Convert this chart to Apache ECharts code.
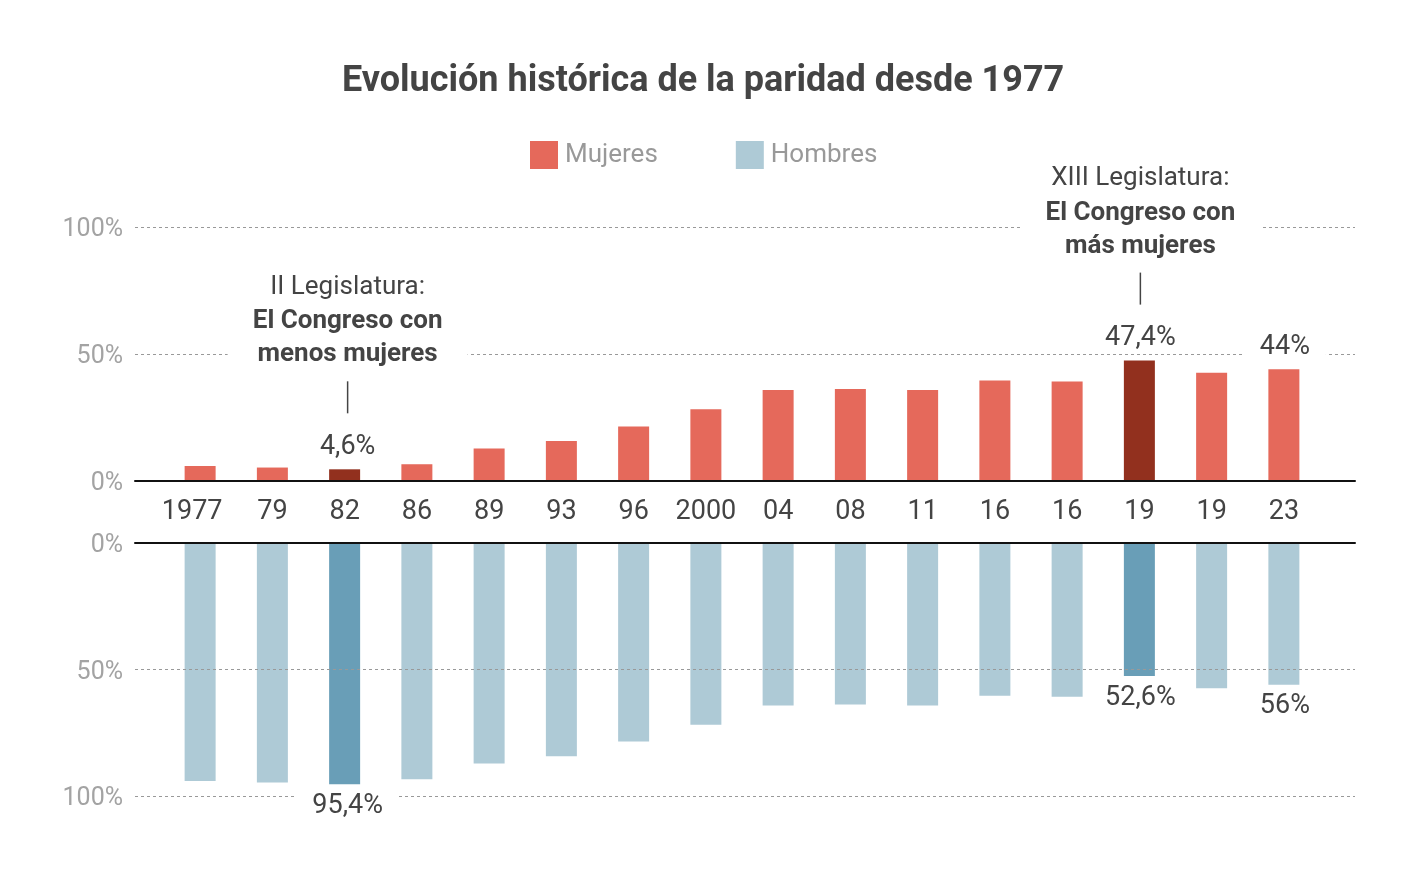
<!DOCTYPE html>
<html>
<head>
<meta charset="utf-8">
<script src="https://cdn.jsdelivr.net/npm/echarts@6/dist/echarts.min.js"></script>
<style>
  html, body { margin: 0; padding: 0; background: #fff; }
  #chart { width: 1420px; height: 878px; }
</style>
</head>
<body>
<div id="chart"></div>
<script>
// legislaturas (año de elección)
var years = ['1977', '79', '82', '86', '89', '93', '96', '2000', '04', '08', '11', '16', '16', '19', '19', '23'];
// % de escaños
var mujeres = [5.9, 5.3, 4.6, 6.6, 12.8, 15.7, 21.5, 28.2, 35.8, 36.2, 35.8, 39.6, 39.2, 47.4, 42.6, 44];
var hombres = [94.1, 94.7, 95.4, 93.4, 87.2, 84.3, 78.5, 71.8, 64.2, 63.8, 64.2, 60.4, 60.8, 52.6, 57.4, 56];
var yTicks = [0, 50, 100];

var highlight = [2, 13];        // II y XIII legislatura
var labelled = [2, 13, 15];     // barras con cifra
var notes = {
  2: ['II Legislatura:', 'El Congreso con', 'menos mujeres'],
  13: ['XIII Legislatura:', 'El Congreso con', 'más mujeres']
};

var RED = '#E5695B', RED_DARK = '#92301E';
var BLUE = '#AECAD6', BLUE_DARK = '#699EB7';
var FONT = 'Roboto';

function pct(v) { return String(v).replace('.', ',') + '%'; }

function barData(values, base, dark) {
  return values.map(function (v, i) {
    return { value: v, itemStyle: { color: highlight.indexOf(i) >= 0 ? dark : base } };
  });
}

// serie transparente encima de la rejilla, solo para las etiquetas
function labelData(values, position, withNotes) {
  return values.map(function (v, i) {
    var item = { value: v };
    if (labelled.indexOf(i) < 0) return item;
    var txt = '{v|' + pct(v) + '}';
    if (withNotes && notes[i]) {
      var n = notes[i];
      txt = '{n|' + n[0] + '}\n{b|' + n[1] + '}\n{b|' + n[2] + '}\n{g1|}\n{tk|}\n{g2|}\n' + txt;
    }
    item.label = {
      show: true,
      position: position,
      distance: 7,
      offset: i === 2 ? [3, 0] : [1, 0],
      formatter: txt
    };
    return item;
  });
}

var rich = {
  v: { fontFamily: FONT, fontSize: 27, color: '#444', height: 30, lineHeight: 30, backgroundColor: '#fff', padding: [0, 16] },
  n: { fontFamily: FONT, fontSize: 26, color: '#444', width: 240, height: 36, lineHeight: 36, backgroundColor: '#fff' },
  b: { fontFamily: FONT, fontSize: 26, fontWeight: 'bold', color: '#444', width: 240, height: 33, lineHeight: 33, backgroundColor: '#fff' },
  g1: { height: 10, lineHeight: 10 },
  tk: { width: 1.5, height: 32, lineHeight: 32, backgroundColor: '#444' },
  g2: { height: 19, lineHeight: 19 }
};

var chart = echarts.init(document.getElementById('chart'), null, { renderer: 'canvas' });

var gridTop = { top: 227, height: 254 };
var gridBot = { top: 543, height: 253 };

function valueY(grid, inverse) {
  return {
    type: 'value', gridIndex: grid, min: yTicks[0], max: yTicks[yTicks.length - 1], interval: 50,
    inverse: inverse, z: 3,
    axisLine: { show: false }, axisTick: { show: false },
    axisLabel: {
      margin: 12,
      formatter: function (v) { return '{t|' + v + '%}'; },
      rich: { t: { fontFamily: FONT, fontSize: 25, color: '#A3A3A3', padding: [6, 0, 0, 0] } }
    },
    splitLine: { show: true, lineStyle: { color: '#999', width: 1, type: [3, 3] } }
  };
}

chart.setOption({
  backgroundColor: '#fff',
  animation: false,
  title: {
    text: 'Evolución histórica de la paridad desde 1977',
    left: 337, top: 59,
    textStyle: { fontFamily: FONT, fontSize: 36, fontWeight: 'bold', color: '#444' }
  },
  legend: {
    data: ['Mujeres', 'Hombres'],
    top: 136, left: 525,
    icon: 'rect', itemWidth: 28, itemHeight: 28, itemGap: 78,
    textStyle: { fontFamily: FONT, fontSize: 26, color: '#999', padding: [0, 0, 0, 2] }
  },
  grid: [
    { left: 164, right: 100, top: gridTop.top, height: gridTop.height },
    { left: 164, right: 100, top: gridBot.top, height: gridBot.height },
    { left: 135, right: 65, top: gridTop.top, height: gridTop.height },
    { left: 135, right: 65, top: gridBot.top, height: gridBot.height }
  ],
  xAxis: [
    {
      type: 'category', gridIndex: 0, data: years,
      axisLine: { show: false }, axisTick: { show: false },
      axisLabel: {
        margin: 18, fontFamily: FONT, fontSize: 27, color: '#444', interval: 0,
        formatter: function (v, i) { return i === 0 ? '{f|' + v + '}' : v; },
        rich: { f: { fontFamily: FONT, fontSize: 27, color: '#444', padding: [0, 16, 0, 0] } }
      }
    },
    { type: 'category', gridIndex: 1, data: years, show: false },
    {
      type: 'value', gridIndex: 2, min: 0, max: 1, z: 3,
      axisLine: { show: true, onZero: false, lineStyle: { color: '#111', width: 2 } },
      axisTick: { show: false }, axisLabel: { show: false }, splitLine: { show: false }
    },
    {
      type: 'value', gridIndex: 3, min: 0, max: 1, z: 3, position: 'top',
      axisLine: { show: true, onZero: false, lineStyle: { color: '#111', width: 2 } },
      axisTick: { show: false }, axisLabel: { show: false }, splitLine: { show: false }
    }
  ],
  yAxis: [
    { type: 'value', gridIndex: 0, min: 0, max: 100, show: false },
    { type: 'value', gridIndex: 1, min: 0, max: 100, inverse: true, show: false },
    valueY(2, false),
    valueY(3, true)
  ],
  series: [
    {
      name: 'Mujeres', type: 'bar', xAxisIndex: 0, yAxisIndex: 0, z: 2,
      barWidth: 31, itemStyle: { color: RED },
      data: barData(mujeres, RED, RED_DARK)
    },
    {
      name: 'Hombres', type: 'bar', xAxisIndex: 1, yAxisIndex: 1, z: 2,
      barWidth: 31, itemStyle: { color: BLUE },
      data: barData(hombres, BLUE, BLUE_DARK)
    },
    {
      name: 'Mujeres etiquetas', type: 'bar', xAxisIndex: 0, yAxisIndex: 0, z: 5,
      barWidth: 31, barGap: '-100%', itemStyle: { color: 'rgba(0,0,0,0)' },
      label: { show: false, rich: rich },
      silent: true,
      data: labelData(mujeres, 'top', true)
    },
    {
      name: 'Hombres etiquetas', type: 'bar', xAxisIndex: 1, yAxisIndex: 1, z: 5,
      barWidth: 31, barGap: '-100%', itemStyle: { color: 'rgba(0,0,0,0)' },
      label: { show: false, rich: rich },
      silent: true,
      data: labelData(hombres, 'bottom', false)
    }
  ]
});
</script>
</body>
</html>
